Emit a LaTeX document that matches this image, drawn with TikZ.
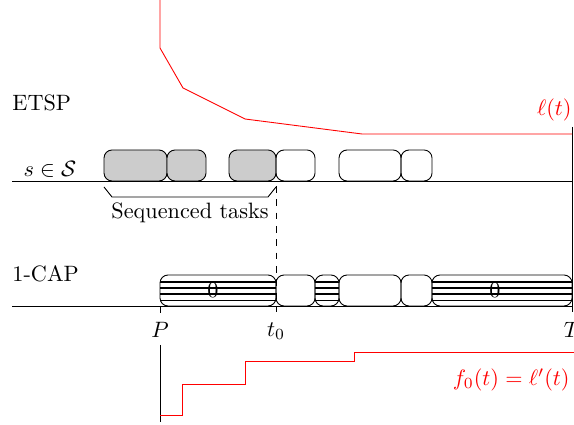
\documentclass[tikz,border=0pt]{standalone}
\usepackage{amsmath, amssymb}
\usepackage{tikz}
\usetikzlibrary{positioning}
\usetikzlibrary{calc}

\tikzset{
  task/.style={draw, rounded corners=3.6pt},
  seqtask/.style={task, fill=black!20},
  idletask/.style={task, path picture={
      \foreach \h in {2.4,5.3,8.1,10.9}
        \draw[line width=0.7pt] ([yshift=\h pt]path picture bounding box.south west) -- ([yshift=\h pt]path picture bounding box.south east);
    }},
  fcurve/.style={red},
  rowlab/.style={anchor=west, inner xsep=0pt},
}

\begin{document}
\begin{tikzpicture}[x=0.45pt,y=-0.45pt]
\useasboundingbox (0,0) rectangle (574,425);

% time axes
\coordinate (e0) at (12,181);
\coordinate (e1) at (572,181);
\coordinate (c0) at (12,306);
\coordinate (c1) at (572,306);
\coordinate (P) at (160,306);
\coordinate (Pt) at (160,313);
\coordinate (T) at (572,312);
\coordinate (Ttop) at (572,127);
\coordinate (t0top) at (276,186);
\coordinate (t0) at (276,312);

\node[rowlab] (etsp) at (12,103) {ETSP};
\node (sset) at (50,169) {$s\in\mathcal{S}$};
\node[rowlab] (cap) at (12,274) {1-CAP};

% ETSP row
\draw[seqtask] (104,150) rectangle (167,181);
\draw[seqtask] (167,150) rectangle (206,181);
\draw[seqtask] (229,150) rectangle (276,181);
\draw[task] (276,150) rectangle (315,181);
\draw[task] (339,150) rectangle (401,181);
\draw[task] (401,150) rectangle (432,181);

% 1-CAP row
\draw[idletask] (160,275) rectangle (276,306);
\draw[task] (276,275) rectangle (315,306);
\draw[idletask] (315,275) rectangle (339,306);
\draw[task] (339,275) rectangle (401,306);
\draw[task] (401,275) rectangle (432,306);
\draw[idletask] (432,275) rectangle (572,306);
\node (z1) at (213,290) {0};
\node (z2) at (495,290) {0};

\draw (e0) -- (e1);
\draw (c0) -- (c1);
\draw (Ttop) -- (T);
\draw (P) -- (Pt);
\draw[dashed] (t0top) -- (t0);

% bracket
\coordinate (b0) at (104,187);
\coordinate (b1) at (112,197);
\coordinate (b2) at (268,197);
\coordinate (b3) at (276,187);
\draw (b0) -- (b1) -- (b2) -- (b3);
\node (seqlab) at (190,213) {Sequenced tasks};

\node (Plab) at (160,330) {$P$};
\node (t0lab) at (276,331) {$t_0$};
\node (Tlab) at (572,330) {$T$};

% l(t)
\draw[fcurve] (160,0) -- (160,48) -- (183,88) -- (245,119) -- (362,134) -- (572,134);
\node[red, anchor=south east, inner xsep=0pt] (ell) at (572,129) {$\ell(t)$};

% f_0(t)
\coordinate (f0) at (160,345);
\coordinate (f1) at (160,422);
\draw (f0) -- (f1);
\draw[fcurve] (160,415) -- (182,415) -- (182,384) -- (245,384) -- (245,361) -- (354,361) -- (354,352) -- (574,352);
\node[red, anchor=east, inner xsep=0pt] (flab) at (570,380) {$f_0(t)=\ell'(t)$};
\end{tikzpicture}
\end{document}
